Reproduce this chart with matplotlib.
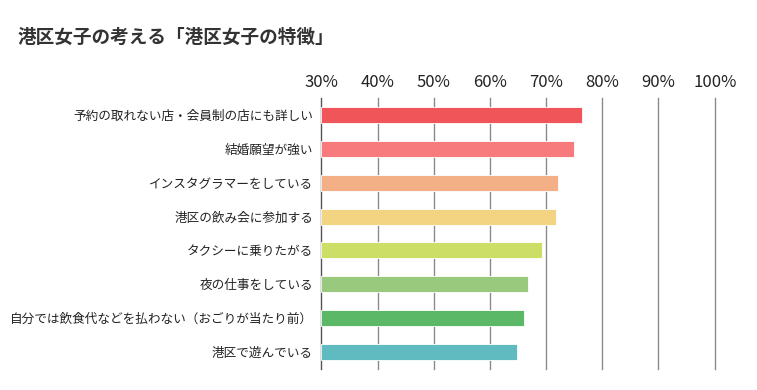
import matplotlib
matplotlib.use("Agg")
import matplotlib.pyplot as plt

plt.rcParams['font.family'] = ['Noto Sans CJK JP', 'DejaVu Sans']

title = "港区女子の考える「港区女子の特徴」"
categories = [
    "予約の取れない店・会員制の店にも詳しい",
    "結婚願望が強い",
    "インスタグラマーをしている",
    "港区の飲み会に参加する",
    "タクシーに乗りたがる",
    "夜の仕事をしている",
    "自分では飲食代などを払わない（おごりが当たり前）",
    "港区で遊んでいる",
]
values = [76.3, 75.0, 72.2, 71.8, 69.2, 66.7, 66.0, 64.8]
colors = ["#F0555A", "#F77B7C", "#F3AF86", "#F2D482", "#CDDE66",
          "#98C97C", "#5BB867", "#5FBBC0"]
xticks = [30, 40, 50, 60, 70, 80, 90, 100]
xticklabels = ["30%", "40%", "50%", "60%", "70%", "80%", "90%", "100%"]

W, H = 757, 390
fig = plt.figure(figsize=(W / 100, H / 100), dpi=100)
ax = fig.add_axes([321.3 / W, 1 - 369 / H, (714.7 - 321.3) / W, (369 - 98) / H])

base = 30
ypos = list(range(len(categories)))
ax.barh(ypos, [v - base for v in values], left=base, height=0.47,
        color=colors, edgecolor="white", linewidth=0.6, zorder=3)

ax.set_xlim(30, 100)
ax.set_ylim(len(categories) - 0.5, -0.5)
ax.set_xticks(xticks)
ax.set_xticklabels(xticklabels, fontsize=12, color="#222222")
ax.xaxis.tick_top()
ax.tick_params(axis='x', length=0, pad=5)
ax.set_yticks(ypos)
ax.set_yticklabels(categories, fontsize=9.1, color="#222222")
ax.tick_params(axis='y', length=0, pad=6)

for x in xticks[1:]:
    ax.axvline(x, color="#8a8a8a", linewidth=1.0, zorder=1, clip_on=False)
for s in ["top", "right", "bottom"]:
    ax.spines[s].set_visible(False)
ax.spines["left"].set_color("#555555")
ax.spines["left"].set_linewidth(1.0)

fig.text(18 / W, 1 - 37 / H, title, fontsize=13.4, fontweight="bold",
         color="#333333", ha="left", va="center")

fig.savefig("out.png", dpi=100, facecolor="white")
